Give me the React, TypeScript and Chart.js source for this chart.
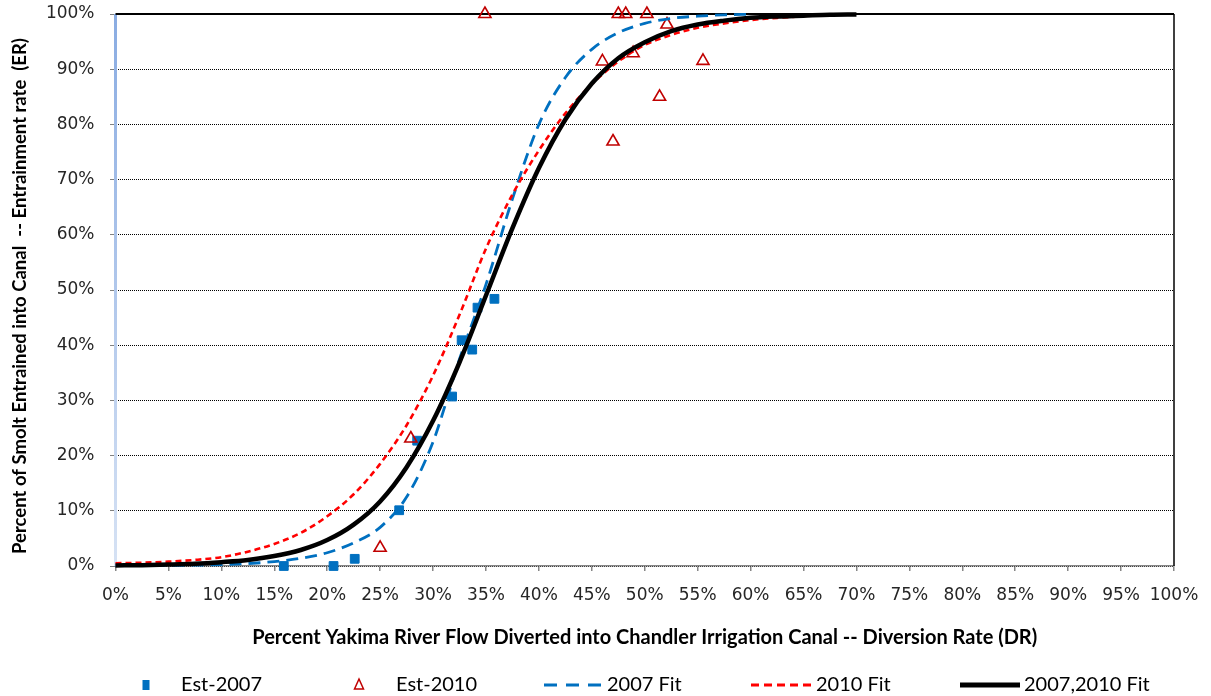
import React, { useEffect, useRef } from "react";
import { Chart, registerables } from "chart.js";

Chart.register(...registerables);

// Observed entrainment estimates: diversion rate (%) vs entrainment rate (%)
const est2007DR = [15.9, 20.6, 22.6, 26.8, 28.5, 31.8, 32.7, 33.7, 34.2, 35.8];
const est2007ER = [0, 0, 1.3, 10.1, 22.7, 30.7, 40.9, 39.2, 46.8, 48.4];

const est2010DR = [25.0, 27.9, 34.9, 46.0, 47.0, 47.5, 48.2, 48.9, 50.2, 51.4, 52.1, 55.5];
const est2010ER = [3.3, 23.1, 100, 91.4, 76.9, 100, 100, 92.9, 100, 85.0, 98.1, 91.5];

// Fitted curves sampled along the diversion-rate axis (%)
const fitGridDR = [
  0, 2.5, 5, 7.5, 10, 12.5, 15, 17.5, 20, 22.5, 25, 27.5, 30, 32.5, 35, 37.5,
  40, 42.5, 45, 47.5, 50, 52.5, 55, 57.5, 60, 62.5, 65, 67.5, 70,
];
const fit2007ER = [
  0.05, 0.05, 0.1, 0.15, 0.25, 0.45, 0.8, 1.4, 2.4, 4.2, 7.0, 12.5, 22.5, 37.5,
  51, 66.5, 80, 88.5, 93.6, 96.6, 98.3, 99.2, 99.6, 99.85, 99.95,
];
const fit2010ER = [
  0.5, 0.6, 0.8, 1.1, 1.6, 2.6, 4.0, 6.0, 9.0, 13.0, 18.5, 25.5, 34.5, 45.5,
  57.5, 67.3, 75.3, 82, 87.3, 91.4, 94.4, 96.2, 97.5, 98.3, 98.9, 99.3, 99.6,
];
const fitAllER = [
  0.1, 0.15, 0.25, 0.4, 0.7, 1.1, 1.8, 2.9, 4.7, 7.5, 11.7, 17.9, 26.3, 36.9,
  49.0, 61.2, 72.1, 80.9, 87.4, 92.0, 94.9, 96.9, 98.1, 98.8, 99.3, 99.55, 99.7,
  99.85, 99.9,
];

const xTitle =
  "Percent Yakima River Flow Diverted into Chandler Irrigation Canal -- Diversion Rate (DR)";
const yTitle =
  "Percent of Smolt Entrained into Canal  -- Entrainment rate  (ER)";

const BLUE = "#0070C0";
const RED = "#FF0000";
const DARK_RED = "#C00000";
const TICK_FONT = "DejaVu Sans";
const TITLE_FONT = "Lato";

const pair = (xs: number[], ys: number[]) =>
  ys.map((y, i) => ({ x: xs[i], y }));

// Plot frame: light blue value axis on the left, solid top and right edges
const framePlugin = {
  id: "frame",
  beforeDatasetsDraw(chart: any) {
    const { ctx, chartArea } = chart;
    const { left, right, top, bottom } = chartArea;
    ctx.save();
    const grad = ctx.createLinearGradient(0, top, 0, bottom);
    grad.addColorStop(0, "#8AACE2");
    grad.addColorStop(1, "#D6E2F4");
    ctx.strokeStyle = grad;
    ctx.lineWidth = 3;
    ctx.beginPath();
    ctx.moveTo(left, top);
    ctx.lineTo(left, bottom);
    ctx.stroke();

    ctx.strokeStyle = "#000";
    ctx.lineWidth = 2;
    ctx.beginPath();
    ctx.moveTo(left, top);
    ctx.lineTo(right, top);
    ctx.stroke();

    ctx.lineWidth = 1.5;
    ctx.beginPath();
    ctx.moveTo(right, top);
    ctx.lineTo(right, bottom);
    ctx.stroke();
    ctx.restore();
  },
};

// Axis titles and the legend row under the plot
const textPlugin = {
  id: "texts",
  afterDraw(chart: any) {
    const { ctx, chartArea } = chart;
    const { left, right } = chartArea;
    ctx.save();
    ctx.fillStyle = "#000";
    ctx.textBaseline = "middle";

    ctx.font = `bold 20px ${TITLE_FONT}`;
    ctx.textAlign = "center";
    ctx.fillText(xTitle, (left + right) / 2, 638);

    ctx.save();
    ctx.translate(20, 296);
    ctx.rotate(-Math.PI / 2);
    ctx.font = `bold 18.5px ${TITLE_FONT}`;
    ctx.fillText(yTitle, 0, 0);
    ctx.restore();

    const ly = 685;
    ctx.font = `20px ${TITLE_FONT}`;
    ctx.textAlign = "left";

    // Est-2007
    ctx.fillStyle = BLUE;
    ctx.fillRect(142.5, ly - 5, 7, 10);
    ctx.fillStyle = "#000";
    ctx.fillText("Est-2007", 181, ly);

    // Est-2010
    ctx.strokeStyle = DARK_RED;
    ctx.lineWidth = 1.5;
    ctx.beginPath();
    ctx.moveTo(359, ly - 6);
    ctx.lineTo(363.5, ly + 4);
    ctx.lineTo(354.5, ly + 4);
    ctx.closePath();
    ctx.stroke();
    ctx.fillText("Est-2010", 396, ly);

    // 2007 Fit
    ctx.strokeStyle = BLUE;
    ctx.lineWidth = 3;
    ctx.setLineDash([13, 9]);
    ctx.beginPath();
    ctx.moveTo(544, ly);
    ctx.lineTo(603, ly);
    ctx.stroke();
    ctx.fillText("2007 Fit", 607, ly);

    // 2010 Fit
    ctx.strokeStyle = RED;
    ctx.setLineDash([8, 5]);
    ctx.beginPath();
    ctx.moveTo(751, ly);
    ctx.lineTo(811, ly);
    ctx.stroke();
    ctx.fillText("2010 Fit", 816, ly);

    // 2007,2010 Fit
    ctx.setLineDash([]);
    ctx.strokeStyle = "#000";
    ctx.lineWidth = 5;
    ctx.beginPath();
    ctx.moveTo(960, ly);
    ctx.lineTo(1020, ly);
    ctx.stroke();
    ctx.fillText("2007,2010 Fit", 1024, ly);

    ctx.restore();
  },
};

export default function App() {
  const ref = useRef<HTMLCanvasElement>(null);

  useEffect(() => {
    const canvas = ref.current;
    if (!canvas) return;
    const chart = new Chart(canvas, {
      type: "scatter",
      data: {
        datasets: [
          {
            label: "Est-2007",
            data: pair(est2007DR, est2007ER),
            pointStyle: "rect",
            pointRadius: 6.2,
            backgroundColor: BLUE,
            borderColor: BLUE,
            borderWidth: 1,
            order: 4,
            clip: false,
          },
          {
            label: "Est-2010",
            data: pair(est2010DR, est2010ER),
            pointStyle: "triangle",
            pointRadius: 7,
            backgroundColor: "rgba(255,255,255,0)",
            borderColor: DARK_RED,
            borderWidth: 1.6,
            order: 3,
            clip: false,
          },
          {
            label: "2007 Fit",
            data: pair(fitGridDR, fit2007ER),
            showLine: true,
            pointRadius: 0,
            borderColor: BLUE,
            borderWidth: 2.8,
            borderDash: [12, 7],
            cubicInterpolationMode: "monotone",
            order: 2,
            clip: false,
          },
          {
            label: "2010 Fit",
            data: pair(fitGridDR, fit2010ER),
            showLine: true,
            pointRadius: 0,
            borderColor: RED,
            borderWidth: 2.6,
            borderDash: [6, 4],
            cubicInterpolationMode: "monotone",
            order: 1,
            clip: false,
          },
          {
            label: "2007,2010 Fit",
            data: pair(fitGridDR, fitAllER),
            showLine: true,
            pointRadius: 0,
            borderColor: "#000",
            borderWidth: 4.5,
            cubicInterpolationMode: "monotone",
            order: 0,
            clip: false,
          },
        ],
      },
      options: {
        responsive: false,
        animation: false,
        devicePixelRatio: 1,
        events: [],
        layout: { padding: { top: 14, right: 37, left: 0, bottom: 0 } },
        plugins: {
          legend: { display: false },
          tooltip: { enabled: false },
        },
        scales: {
          x: {
            type: "linear",
            min: 0,
            max: 100,
            afterFit: (s: any) => {
              s.height = 130;
              s.paddingLeft = 0;
              s.paddingRight = 0;
            },
            ticks: {
              stepSize: 5,
              autoSkip: false,
              maxRotation: 0,
              padding: 14,
              color: "#262626",
              font: { family: TICK_FONT, size: 17 },
              callback: (v: any) => `${v}%`,
            },
            grid: {
              drawOnChartArea: false,
              drawTicks: true,
              tickLength: 5,
              color: "#868686",
              lineWidth: 1.5,
            },
            border: { color: "#868686", width: 1.5 },
          },
          y: {
            type: "linear",
            min: 0,
            max: 100,
            afterFit: (s: any) => {
              s.width = 115.5;
              s.paddingTop = 0;
              s.paddingBottom = 0;
            },
            ticks: {
              stepSize: 10,
              padding: 16,
              color: "#262626",
              font: { family: TICK_FONT, size: 17 },
              callback: (v: any) => `${v}%`,
            },
            grid: {
              color: "#000",
              lineWidth: 1,
              tickLength: 5,
              tickBorderDash: [1, 1],
            },
            border: { display: false, dash: [1, 1] },
          },
        },
      },
      plugins: [framePlugin, textPlugin],
    });
    return () => chart.destroy();
  }, []);

  return (
    <div
      style={{
        position: "absolute",
        left: 0,
        top: 0,
        width: 1211,
        height: 696,
        background: "#fff",
      }}
    >
      <canvas
        ref={ref}
        width={1211}
        height={696}
        style={{ display: "block", width: 1211, height: 696 }}
      />
    </div>
  );
}
